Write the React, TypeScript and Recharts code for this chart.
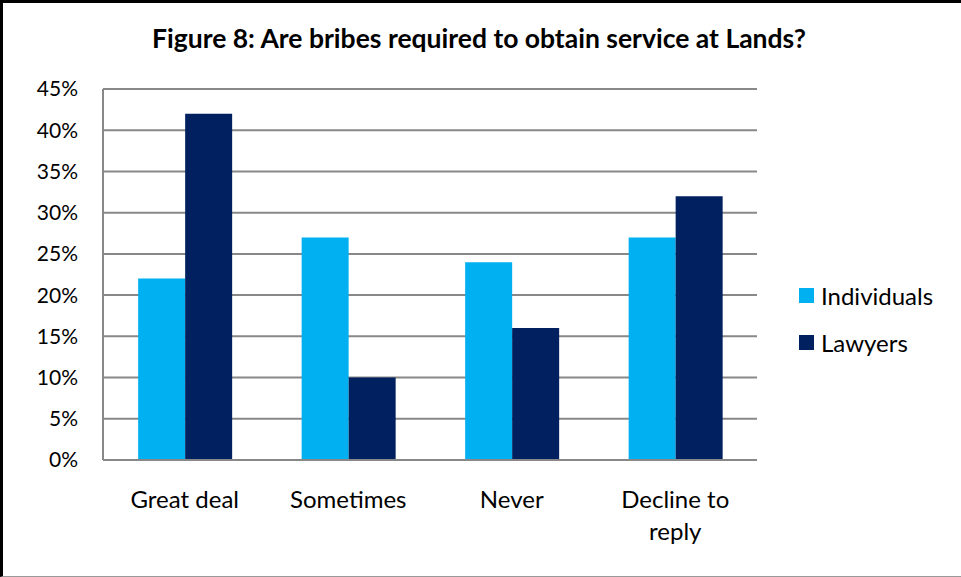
import React from "react";
import { BarChart, Bar, XAxis, YAxis, CartesianGrid } from "recharts";

const categories = ["Great deal", "Sometimes", "Never", "Decline to reply"];
const individuals = [22, 27, 24, 27];
const lawyers = [42, 10, 16, 32];
const yTicks = [0, 5, 10, 15, 20, 25, 30, 35, 40, 45];

const seriesNames = ["Individuals", "Lawyers"];
const seriesColors = ["#00B0F0", "#002060"];

const FONT = "Lato, 'Open Sans', sans-serif";

const data = categories.map((name, i) => ({
  name,
  Individuals: individuals[i],
  Lawyers: lawyers[i],
}));

// long category names go onto two lines, split at the last space
const splitLabel = (s: string) => {
  if (s.length <= 12) return [s];
  const k = s.lastIndexOf(" ");
  return [s.slice(0, k), s.slice(k + 1)];
};

const CategoryTick = (props: any) => {
  const { x, y, payload } = props;
  const lines = splitLabel(String(payload.value));
  return (
    <text x={x} y={y + 48} textAnchor="middle" style={{ fontFamily: FONT, fontSize: 24, fill: "#000" }}>
      {lines.map((l, i) => (
        <tspan key={i} x={x} dy={i === 0 ? 0 : 32}>
          {l}
        </tspan>
      ))}
    </text>
  );
};

const App: React.FC = () => {
  return (
    <div style={{ position: "absolute", left: 0, top: 0, width: 961, height: 577, background: "#fff" }}>
      <div
        style={{
          position: "absolute",
          left: 0,
          top: 0,
          width: 961,
          height: 577,
          boxSizing: "border-box",
          borderTop: "3px solid #000",
          borderLeft: "3px solid #000",
          borderBottom: "1px solid #999",
          pointerEvents: "none",
          zIndex: 2,
        }}
      />
      <div
        style={{
          position: "absolute",
          left: 0,
          top: 22,
          width: 958,
          textAlign: "center",
          fontFamily: FONT,
          fontWeight: "bold",
          fontSize: 26.5,
          color: "#000",
        }}
      >
        Figure 8: Are bribes required to obtain service at Lands?
      </div>
      <div style={{ position: "absolute", left: 0, top: 0 }}>
        <BarChart
          width={961}
          height={577}
          data={data}
          margin={{ top: 89, right: 204, left: 0, bottom: 0 }}
          barCategoryGap="21.5%"
          barGap={0}
        >
          <CartesianGrid horizontal vertical={false} stroke="#888" strokeWidth={2} />
          <XAxis
            dataKey="name"
            tick={<CategoryTick />}
            tickLine={false}
            tickSize={0}
            tickMargin={0}
            axisLine={{ stroke: "#888", strokeWidth: 2 }}
            interval={0}
            height={117}
          />
          <YAxis
            domain={[0, 45]}
            ticks={yTicks}
            interval={0}
            tickFormatter={(v) => `${v}%`}
            tickLine={false}
            tickSize={0}
            tickMargin={25}
            axisLine={{ stroke: "#888", strokeWidth: 2 }}
            width={103}
            tick={{ fontFamily: FONT, fontSize: 21, fill: "#000" }}
          />
          <Bar dataKey="Individuals" fill={seriesColors[0]} isAnimationActive={false} />
          <Bar dataKey="Lawyers" fill={seriesColors[1]} isAnimationActive={false} />
        </BarChart>
      </div>
      <div style={{ position: "absolute", left: 799, top: 272, fontFamily: FONT, fontSize: 24, color: "#000" }}>
        {seriesNames.map((n, i) => (
          <div key={n} style={{ display: "flex", alignItems: "center", height: 47 }}>
            <span
              style={{ width: 15, height: 15, background: seriesColors[i], marginRight: 7, display: "inline-block" }}
            />
            {n}
          </div>
        ))}
      </div>
    </div>
  );
};

export default App;
